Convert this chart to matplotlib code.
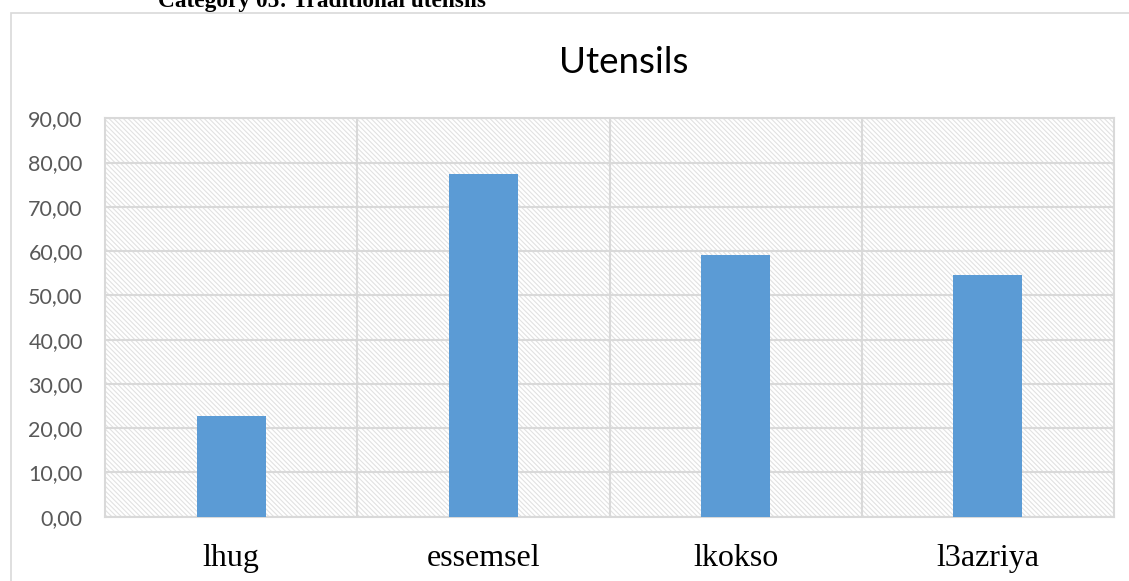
import numpy as np
import matplotlib.pyplot as plt
from matplotlib.patches import Rectangle

# Utensils survey scores
categories = ['lhug', 'essemsel', 'lkokso', 'l3azriya']
scores = [22.8, 77.4, 59.2, 54.7]
yticks = np.arange(0, 100, 10)

plt.rcParams['hatch.linewidth'] = 0.8
grid_grey = '#d9d9d9'

fig = plt.figure(figsize=(11.29, 5.81), dpi=100)

## heading of the figure, partly cut off above
fig.text(158 / 1129, 1 - 7 / 581, 'Category 05: Traditional utensils',
         family='Liberation Serif', weight='bold', fontsize=16.8,
         ha='left', va='baseline', color='black')

## chart frame (runs past the right and bottom edges)
fig.patches.append(Rectangle((11 / 1129, -0.2), 1.2, 1.2 - 13 / 581,
                             transform=fig.transFigure, fill=False,
                             edgecolor=grid_grey, lw=1.2))

ax = fig.add_axes([105 / 1129, 1 - 516.7 / 581, (1114 - 105) / 1129, (516.7 - 118.3) / 581])
ax.set_facecolor('white')
ax.add_patch(Rectangle((0, 0), 1, 1, transform=ax.transAxes, facecolor='white',
                       edgecolor='#e2e2e2', hatch='\\' * 7, lw=0, zorder=0))

x = np.arange(len(categories))
ax.bar(x, scores, width=0.274, color='#5b9bd5', zorder=3)

ax.set_xlim(-0.5, len(categories) - 0.5)
ax.set_ylim(0, 90)
ax.set_yticks(yticks)
ax.set_yticklabels([f'{v:.2f}'.replace('.', ',') for v in yticks],
                   family='Lato', fontsize=15.5, color='#595959')
ax.set_xticks(x)
ax.set_xticklabels(categories, family='Liberation Serif', fontsize=23, color='black')
ax.set_xticks(x[:-1] + 0.5, minor=True)

ax.grid(axis='y', which='major', color=grid_grey, lw=1.5, zorder=1)
ax.grid(axis='x', which='minor', color=grid_grey, lw=1.5, zorder=1)
ax.grid(axis='x', which='major', visible=False)
ax.tick_params(which='both', length=0)
ax.tick_params(axis='y', pad=16)
ax.tick_params(axis='x', pad=20)
for s in ax.spines.values():
    s.set_color(grid_grey)
    s.set_linewidth(1.5)
ax.set_axisbelow(True)

fig.text(624 / 1129, 1 - 73 / 581, 'Utensils', family='Lato', fontsize=26.5,
         ha='center', va='baseline', color='black')

fig.savefig('out.png', dpi=100)
